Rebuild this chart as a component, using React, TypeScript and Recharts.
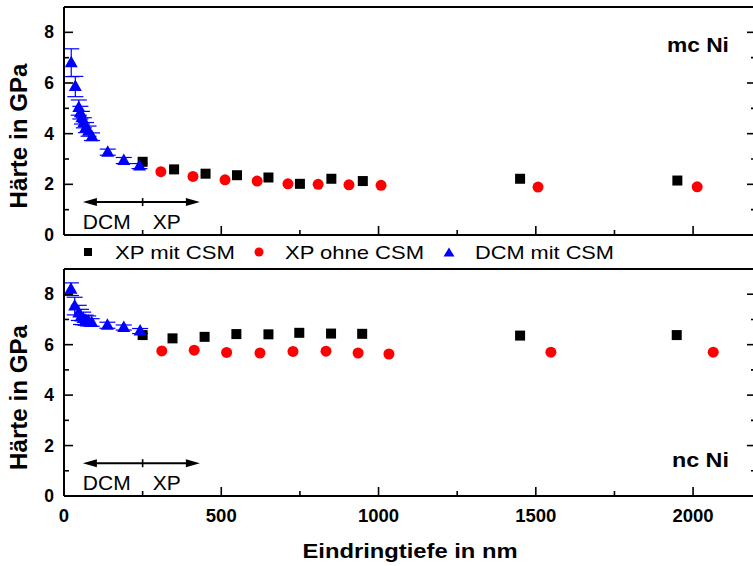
import React from "react";
import {
  ScatterChart,
  Scatter,
  XAxis,
  YAxis,
  ErrorBar,
  Legend,
  ReferenceLine,
  ReferenceDot,
} from "recharts";

// mc Ni (oberes Diagramm)
const mcXpCsmX = [250, 350, 450, 550, 650, 750, 850, 950, 1450, 1950];
const mcXpCsmH = [2.89, 2.59, 2.42, 2.36, 2.27, 2.02, 2.22, 2.13, 2.22, 2.15];
const mcXpOhneX = [308, 410, 512, 614, 712, 808, 906, 1008, 1507, 2013];
const mcXpOhneH = [2.5, 2.31, 2.18, 2.13, 2.02, 2.0, 1.98, 1.96, 1.89, 1.9];
const mcDcmX = [23, 36, 47, 52, 57, 63, 70, 78, 89, 139, 190, 240];
const mcDcmH = [6.8, 5.86, 5.03, 4.83, 4.63, 4.43, 4.24, 4.1, 3.88, 3.27, 2.94, 2.72];
const mcDcmErr = [0.55, 0.4, 0.3, 0.25, 0.25, 0.2, 0.2, 0.2, 0.15, 0.12, 0.12, 0.1];

// nc Ni (unteres Diagramm)
const ncXpCsmX = [250, 345, 447, 548, 650, 748, 849, 948, 1450, 1948];
const ncXpCsmH = [6.38, 6.25, 6.31, 6.42, 6.41, 6.47, 6.44, 6.43, 6.36, 6.38];
const ncXpOhneX = [311, 414, 517, 623, 728, 833, 935, 1033, 1548, 2064];
const ncXpOhneH = [5.75, 5.78, 5.69, 5.67, 5.73, 5.74, 5.67, 5.63, 5.7, 5.7];
const ncDcmX = [22, 34, 47, 54, 61, 69, 77, 88, 138, 190, 242];
const ncDcmH = [8.2, 7.53, 7.26, 7.1, 7.04, 6.97, 6.94, 6.88, 6.77, 6.68, 6.54];
const ncDcmErr = [0.25, 0.35, 0.3, 0.3, 0.25, 0.2, 0.2, 0.15, 0.12, 0.1, 0.1];

const xTicks = [0, 250, 500, 750, 1000, 1250, 1500, 1750, 2000];
const yTicks = [0, 1, 2, 3, 4, 5, 6, 7, 8, 9];
const legendNames = ["XP mit CSM", "XP ohne CSM", "DCM mit CSM"];

// DCM / XP Bereichspfeil (nm)
const ARROW_FROM = 60;
const ARROW_SPLIT = 250;
const ARROW_TO = 432;

const FONT = '"Liberation Sans", Arial, Helvetica, sans-serif';

const toPoints = (xs: number[], hs: number[], errs?: number[]) =>
  xs.map((x, i) => ({ x, h: hs[i], err: errs ? errs[i] : 0 }));

const Square = (p: any) => (
  <rect x={p.cx - 5} y={p.cy - 5} width={10} height={10} fill="#000" />
);
const Dot = (p: any) => <circle cx={p.cx} cy={p.cy} r={5.5} fill="#ff0000" />;
const Tri = (p: any) => (
  <polygon
    points={`${p.cx},${p.cy - 7} ${p.cx - 6.5},${p.cy + 4.5} ${p.cx + 6.5},${p.cy + 4.5}`}
    fill="#0000ff"
  />
);

function BottomTick(props: any) {
  const { x, y, payload, showLabel } = props;
  const major = payload.value % 500 === 0;
  return (
    <g>
      <line x1={x} x2={x} y1={y} y2={y - (major ? 9 : 5)} stroke="#000" strokeWidth={1.6} />
      {showLabel && major && (
        <text x={x} y={y + 26} textAnchor="middle" fontSize={18.5} fontWeight="bold" fill="#000">
          {payload.value}
        </text>
      )}
    </g>
  );
}

function TopTick(props: any) {
  const { x, y, payload } = props;
  const major = payload.value % 500 === 0;
  return <line x1={x} x2={x} y1={y} y2={y + (major ? 9 : 5)} stroke="#000" strokeWidth={1.6} />;
}

function LeftTick(props: any) {
  const { x, y, payload } = props;
  const major = payload.value % 2 === 0;
  return (
    <g>
      <line x1={x} x2={x + (major ? 9 : 5)} y1={y} y2={y} stroke="#000" strokeWidth={1.6} />
      {major && (
        <text x={x - 10} y={y + 6} textAnchor="end" fontSize={17.5} fontWeight="bold" fill="#000">
          {payload.value}
        </text>
      )}
    </g>
  );
}

function RightTick(props: any) {
  const { x, y, payload } = props;
  const major = payload.value % 2 === 0;
  return <line x1={x} x2={x - (major ? 9 : 5)} y1={y} y2={y} stroke="#000" strokeWidth={1.6} />;
}

function ArrowShape(props: any) {
  const left = Math.min(props.x1, props.x2);
  const right = Math.max(props.x1, props.x2);
  const y = props.y1;
  const sep = left + ((ARROW_SPLIT - ARROW_FROM) / (ARROW_TO - ARROW_FROM)) * (right - left);
  return (
    <g>
      <line x1={left + 6} x2={right - 6} y1={y} y2={y} stroke="#000" strokeWidth={2} />
      <polygon points={`${left},${y} ${left + 14},${y - 4} ${left + 14},${y + 4}`} fill="#000" />
      <polygon points={`${right},${y} ${right - 14},${y - 4} ${right - 14},${y + 4}`} fill="#000" />
      <line x1={sep} x2={sep} y1={y - 4} y2={y + 4} stroke="#000" strokeWidth={1.6} />
      <text x={left} y={y + 27} fontSize={21} fill="#000">DCM</text>
      <text x={sep + 10} y={y + 27} fontSize={21} fill="#000">XP</text>
    </g>
  );
}

const yTitle = (p: any) => {
  const vb = p && p.viewBox ? p.viewBox : { x: 0, y: 7, width: 64, height: 228 };
  return (
    <text
      transform={`translate(26.5 ${vb.y + vb.height / 2 + 15}) rotate(-90)`}
      textAnchor="middle"
      fontSize={23}
      fontWeight="bold"
      fill="#000"
      textLength={145}
      lengthAdjust="spacingAndGlyphs"
    >
      Härte in GPa
    </text>
  );
};

const xTitle = (p: any) => {
  const vb = p && p.viewBox ? p.viewBox : { x: 64, y: 496, width: 692, height: 70 };
  return (
    <text
      x={vb.x + vb.width / 2}
      y={vb.y + 62}
      textAnchor="middle"
      fontSize={21}
      fontWeight="bold"
      fill="#000"
      textLength={215}
      lengthAdjust="spacingAndGlyphs"
    >
      Eindringtiefe in nm
    </text>
  );
};

function LegendBox() {
  return (
    <svg width={753} height={28} style={{ display: "block" }}>
      <rect x={84} y={8} width={8} height={8} fill="#000" />
      <text x={115} y={18.5} fontSize={19} fill="#000" textLength={120} lengthAdjust="spacingAndGlyphs">
        {legendNames[0]}
      </text>
      <circle cx={259} cy={12} r={4.5} fill="#ff0000" />
      <text x={285} y={18.5} fontSize={19} fill="#000" textLength={139} lengthAdjust="spacingAndGlyphs">
        {legendNames[1]}
      </text>
      <polygon points="449,7.5 443.5,16.5 454.5,16.5" fill="#0000ff" />
      <text x={475} y={18.5} fontSize={19} fill="#000" textLength={139} lengthAdjust="spacingAndGlyphs">
        {legendNames[2]}
      </text>
    </svg>
  );
}

function Panel(props: any) {
  const { xpCsm, xpOhne, dcm, tag, tagY, bottom, height, margin, legend } = props;
  const axisLine = { stroke: "#000", strokeWidth: 2 };
  return (
    <ScatterChart width={760} height={height} margin={margin}>
      <XAxis
        xAxisId="b"
        type="number"
        dataKey="x"
        domain={[0, 2200]}
        allowDataOverflow
        ticks={xTicks}
        interval={0}
        height={bottom ? 70 : 1}
        axisLine={axisLine}
        tickLine={false}
        tickSize={0}
        tickMargin={0}
        tick={(p: any) => <BottomTick {...p} showLabel={bottom} />}
        label={bottom ? xTitle : undefined}
      />
      <XAxis
        xAxisId="t"
        orientation="top"
        type="number"
        domain={[0, 2200]}
        allowDataOverflow
        ticks={xTicks}
        interval={0}
        height={1}
        axisLine={axisLine}
        tickLine={false}
        tickSize={0}
        tickMargin={0}
        tick={(p: any) => <TopTick {...p} />}
      />
      <YAxis
        yAxisId="l"
        type="number"
        dataKey="h"
        domain={[0, 9]}
        allowDataOverflow
        ticks={yTicks}
        interval={0}
        width={64}
        axisLine={axisLine}
        tickLine={false}
        tickSize={0}
        tickMargin={0}
        tick={(p: any) => <LeftTick {...p} />}
        label={yTitle}
      />
      <YAxis
        yAxisId="r"
        orientation="right"
        type="number"
        domain={[0, 9]}
        allowDataOverflow
        ticks={yTicks}
        interval={0}
        width={1}
        axisLine={axisLine}
        tickLine={false}
        tickSize={0}
        tickMargin={0}
        tick={(p: any) => <RightTick {...p} />}
      />
      {legend && (
        <Legend
          layout="horizontal"
          verticalAlign="middle"
          align="center"
          wrapperStyle={{ top: 240, left: 0, width: 753, height: 28 }}
          content={() => <LegendBox />}
        />
      )}
      <ReferenceLine
        xAxisId="b"
        yAxisId="l"
        segment={[
          { x: ARROW_FROM, y: 1.3 },
          { x: ARROW_TO, y: 1.3 },
        ]}
        shape={(p: any) => <ArrowShape {...p} />}
      />
      <ReferenceDot
        xAxisId="b"
        yAxisId="l"
        x={2114}
        y={tagY}
        r={0}
        shape={(p: any) => (
          <text
            x={p.cx}
            y={p.cy}
            textAnchor="end"
            fontSize={20}
            fontWeight="bold"
            fill="#000"
            textLength={tag === "mc Ni" ? 62 : 57}
            lengthAdjust="spacingAndGlyphs"
          >
            {tag}
          </text>
        )}
      />
      <Scatter
        name={legendNames[0]}
        xAxisId="b"
        yAxisId="l"
        data={xpCsm}
        shape={Square}
        isAnimationActive={false}
      />
      <Scatter
        name={legendNames[1]}
        xAxisId="b"
        yAxisId="l"
        data={xpOhne}
        shape={Dot}
        isAnimationActive={false}
      />
      <Scatter
        name={legendNames[2]}
        xAxisId="b"
        yAxisId="l"
        data={dcm}
        shape={Tri}
        isAnimationActive={false}
      >
        <ErrorBar
          dataKey="err"
          direction="y"
          width={8}
          stroke="#0000ff"
          strokeWidth={1.2}
          isAnimationActive={false}
        />
      </Scatter>
    </ScatterChart>
  );
}

export default function App() {
  return (
    <div
      style={{
        position: "absolute",
        left: 0,
        top: 0,
        width: 753,
        height: 566,
        overflow: "hidden",
        background: "#fff",
        fontFamily: FONT,
      }}
    >
      <div style={{ position: "absolute", left: 0, top: 0 }}>
        <Panel
          xpCsm={toPoints(mcXpCsmX, mcXpCsmH)}
          xpOhne={toPoints(mcXpOhneX, mcXpOhneH)}
          dcm={toPoints(mcDcmX, mcDcmH, mcDcmErr)}
          tag="mc Ni"
          tagY={7.22}
          bottom={false}
          legend
          height={250}
          margin={{ top: 6, right: 3, bottom: 14, left: 0 }}
        />
      </div>
      <div style={{ position: "absolute", left: 0, top: 262 }}>
        <Panel
          xpCsm={toPoints(ncXpCsmX, ncXpCsmH)}
          xpOhne={toPoints(ncXpOhneX, ncXpOhneH)}
          dcm={toPoints(ncDcmX, ncDcmH, ncDcmErr)}
          tag="nc Ni"
          tagY={1.15}
          bottom
          legend={false}
          height={304}
          margin={{ top: 6, right: 3, bottom: 0, left: 0 }}
        />
      </div>
    </div>
  );
}
